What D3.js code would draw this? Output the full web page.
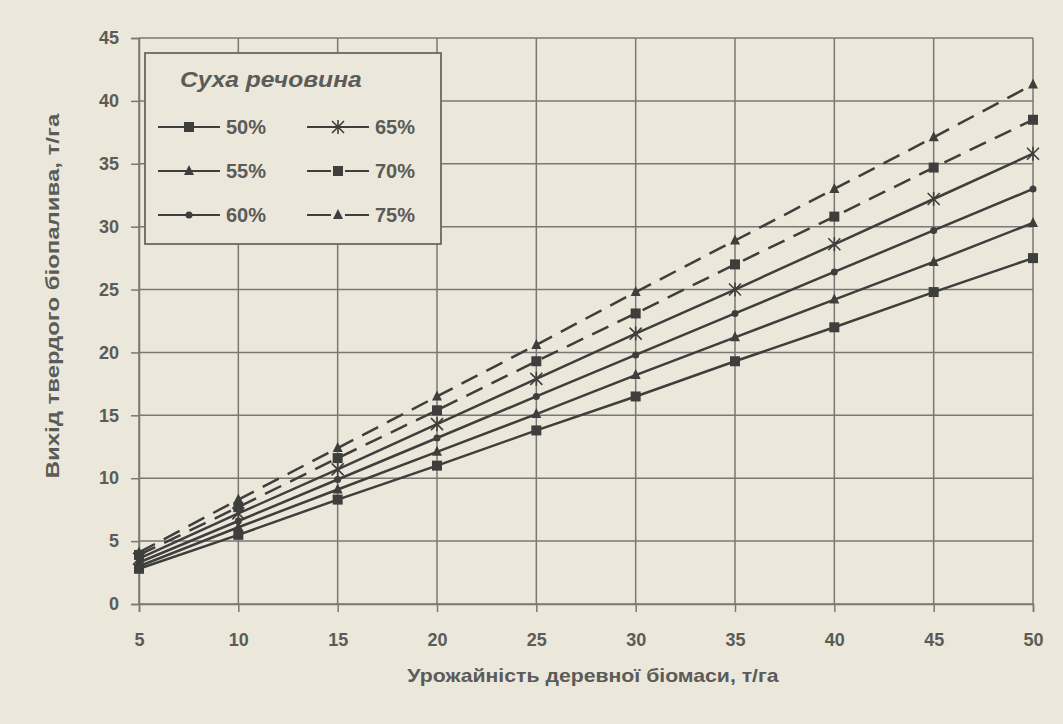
<!DOCTYPE html>
<html>
<head>
<meta charset="utf-8">
<script src="https://cdn.jsdelivr.net/npm/d3@7"></script>
<style>
  body { margin: 0; background: #ebe7da; }
  svg { display: block; }
  .tick text { font-family: Arial, "Liberation Sans", sans-serif; font-weight: bold; fill: #5b5b58; }
</style>
</head>
<body>
<div id="chart"></div>
<script>
// урожайність, т/га
const yields = [5, 10, 15, 20, 25, 30, 35, 40, 45, 50];
const xTicks = [5, 10, 15, 20, 25, 30, 35, 40, 45, 50];
const yTicks = [0, 5, 10, 15, 20, 25, 30, 35, 40, 45];

// вихід твердого біопалива для кожного вмісту сухої речовини
const dry50 = [2.8, 5.5, 8.3, 11.0, 13.8, 16.5, 19.3, 22.0, 24.8, 27.5];
const dry55 = [3.0, 6.1, 9.1, 12.1, 15.1, 18.2, 21.2, 24.2, 27.2, 30.3];
const dry60 = [3.3, 6.6, 9.9, 13.2, 16.5, 19.8, 23.1, 26.4, 29.7, 33.0];
const dry65 = [3.6, 7.2, 10.7, 14.3, 17.9, 21.5, 25.0, 28.6, 32.2, 35.8];
const dry70 = [3.9, 7.7, 11.6, 15.4, 19.3, 23.1, 27.0, 30.8, 34.7, 38.5];
const dry75 = [4.1, 8.3, 12.4, 16.5, 20.6, 24.8, 28.9, 33.0, 37.1, 41.3];

const seriesNames = ['50%', '55%', '60%', '65%', '70%', '75%'];
const seriesValues = [dry50, dry55, dry60, dry65, dry70, dry75];
const seriesMarkers = ['square', 'triangle', 'dot', 'cross', 'square', 'triangle'];
const seriesDashed = [false, false, false, false, true, true];

const width = 1063, height = 724;
const margin = {top: 38, right: 30, bottom: 120, left: 139};
const ink = '#3e3e3c', grid = '#7a7873', text = '#5b5b58';
const font = 'Arial, "Liberation Sans", sans-serif';

const svg = d3.select('#chart').append('svg')
  .attr('width', width)
  .attr('height', height);

svg.append('rect').attr('width', width).attr('height', height).attr('fill', '#ebe7da');

const x = d3.scaleLinear().domain([5, 50]).range([margin.left, width - margin.right]);
const y = d3.scaleLinear().domain([0, 45]).range([height - margin.bottom, margin.top]);

// сітка
svg.append('g')
  .selectAll('line')
  .data(yTicks)
  .enter().append('line')
    .attr('x1', x(5)).attr('x2', x(50))
    .attr('y1', d => y(d)).attr('y2', d => y(d))
    .attr('stroke', grid).attr('stroke-width', 1.5);

svg.append('g')
  .selectAll('line')
  .data(xTicks)
  .enter().append('line')
    .attr('x1', d => x(d)).attr('x2', d => x(d))
    .attr('y1', y(0)).attr('y2', y(45))
    .attr('stroke', grid).attr('stroke-width', 1.5);

// осі
const xAxis = svg.append('g')
  .attr('transform', `translate(0,${y(0)})`)
  .call(d3.axisBottom(x).tickValues(xTicks).tickSize(8).tickPadding(21));
const yAxis = svg.append('g')
  .attr('transform', `translate(${x(5)},0)`)
  .call(d3.axisLeft(y).tickValues(yTicks).tickSize(8).tickPadding(12));

[xAxis, yAxis].forEach(a => {
  a.select('.domain').attr('stroke', grid).attr('stroke-width', 1.5);
  a.selectAll('.tick line').attr('stroke', grid).attr('stroke-width', 1.5);
  a.selectAll('.tick text').attr('font-size', 18);
});

// підписи осей (гліфи трохи розтягнуті, як на скані)
svg.append('text')
  .attr('transform', 'translate(593,682) scale(1.18,1)')
  .attr('text-anchor', 'middle')
  .attr('font-family', font)
  .attr('font-weight', 'bold').attr('font-size', 18)
  .attr('fill', text)
  .text('Урожайність деревної біомаси, т/га');

svg.append('text')
  .attr('transform', 'translate(59,296) rotate(-90) scale(1.26,1)')
  .attr('text-anchor', 'middle')
  .attr('font-family', font)
  .attr('font-weight', 'bold').attr('font-size', 19)
  .attr('fill', text)
  .text('Вихід твердого біопалива, т/га');

function drawMarker(g, type, cx, cy) {
  if (type === 'square') {
    g.append('rect').attr('x', cx - 5).attr('y', cy - 5).attr('width', 10).attr('height', 10).attr('fill', ink);
  } else if (type === 'triangle') {
    g.append('path').attr('d', `M${cx},${cy - 6}L${cx + 5},${cy + 4}L${cx - 5},${cy + 4}Z`).attr('fill', ink);
  } else if (type === 'dot') {
    g.append('circle').attr('cx', cx).attr('cy', cy).attr('r', 3.5).attr('fill', ink);
  } else if (type === 'cross') {
    g.append('path')
      .attr('d', `M${cx - 6},${cy - 6}L${cx + 6},${cy + 6}M${cx - 6},${cy + 6}L${cx + 6},${cy - 6}M${cx},${cy - 7}L${cx},${cy + 7}`)
      .attr('stroke', ink).attr('stroke-width', 1.6).attr('fill', 'none');
  }
}

const line = d3.line().x((d, i) => x(yields[i])).y(d => y(d));

seriesValues.forEach((vals, s) => {
  const g = svg.append('g');
  g.append('path')
    .attr('d', line(vals))
    .attr('fill', 'none')
    .attr('stroke', ink)
    .attr('stroke-width', 2.5)
    .attr('stroke-dasharray', seriesDashed[s] ? '18,10' : null);
  vals.forEach((v, i) => drawMarker(g, seriesMarkers[s], x(yields[i]), y(v)));
});

// легенда
const legend = svg.append('g');
legend.append('rect')
  .attr('x', 145).attr('y', 53).attr('width', 296).attr('height', 191)
  .attr('fill', '#ebe7da').attr('stroke', '#6a6864').attr('stroke-width', 1.8);
legend.append('text')
  .attr('transform', 'translate(180,87) scale(1.12,1)')
  .attr('font-family', font)
  .attr('font-weight', 'bold').attr('font-style', 'italic').attr('font-size', 22)
  .attr('fill', text)
  .text('Суха речовина');

seriesNames.forEach((name, s) => {
  const col = s < 3 ? 0 : 1;
  const row = s % 3;
  const lx = col === 0 ? 158 : 307;
  const ly = 127 + row * 44;
  legend.append('line')
    .attr('x1', lx).attr('x2', lx + 62)
    .attr('y1', ly).attr('y2', ly)
    .attr('stroke', ink).attr('stroke-width', 2.2)
    .attr('stroke-dasharray', seriesDashed[s] ? '24,14' : null);
  drawMarker(legend, seriesMarkers[s], lx + 31, ly);
  legend.append('text')
    .attr('x', lx + 68).attr('y', ly + 7)
    .attr('font-family', font)
    .attr('font-weight', 'bold').attr('font-size', 20)
    .attr('fill', text)
    .text(name);
});
</script>
</body>
</html>
